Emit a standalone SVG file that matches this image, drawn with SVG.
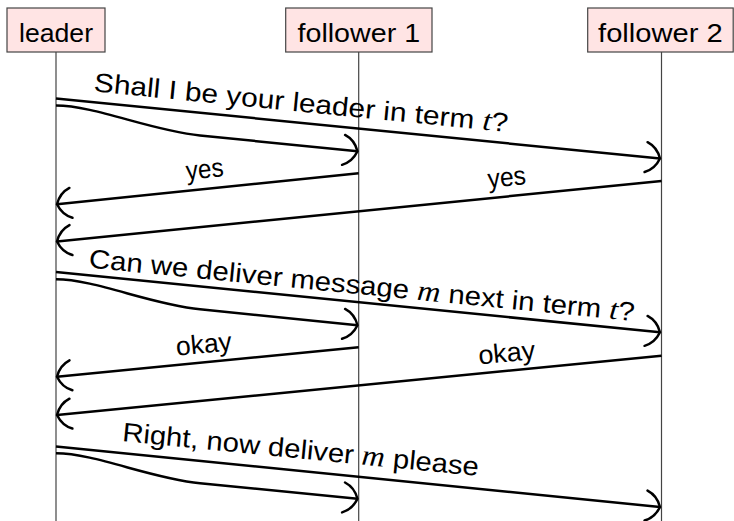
<svg xmlns="http://www.w3.org/2000/svg" width="734" height="521" viewBox="0 0 734 521">
<style>
.box{fill:#ffe4e4;stroke:#444;stroke-width:1.2}
.life{stroke:#444;stroke-width:1.2;fill:none}
.msg{stroke:#000;stroke-width:2.5;fill:none;marker-end:url(#to)}
.t{font-family:"Liberation Sans",Arial,sans-serif;font-size:26.5px;fill:#000}
.m{font-family:"Liberation Serif","Times New Roman",serif;font-style:italic;font-size:29px}
</style>
<defs>
<marker id="to" markerUnits="userSpaceOnUse" orient="auto" markerWidth="40" markerHeight="40" refX="0" refY="0" overflow="visible">
<path d="M -14,-15 Q -4,-11 0,0 Q -4,11 -14,15" fill="none" stroke="#000" stroke-width="2.5" stroke-linecap="round"/>
</marker>
</defs>
<g id="lifelines">
<line class="life" x1="56" y1="52" x2="56" y2="521"/>
<line class="life" x1="358.7" y1="52" x2="358.7" y2="521"/>
<line class="life" x1="661.5" y1="52" x2="661.5" y2="521"/>
</g>
<g id="leader">
<rect class="box" x="7" y="8" width="98" height="44"/>
<text class="t" x="56" y="41.7" text-anchor="middle" textLength="74" lengthAdjust="spacingAndGlyphs">leader</text>
</g>
<g id="follower1">
<rect class="box" x="285.7" y="8" width="146.3" height="44"/>
<text class="t" x="358.8" y="41.7" text-anchor="middle" textLength="122.6" lengthAdjust="spacingAndGlyphs">follower 1</text>
</g>
<g id="follower2">
<rect class="box" x="587.7" y="8" width="145.5" height="44"/>
<text class="t" x="660.4" y="41.7" text-anchor="middle" textLength="124.7" lengthAdjust="spacingAndGlyphs">follower 2</text>
</g>
<g id="connectors">
<path class="msg" d="M56,98.5 L660,158.5"/>
<path class="msg" d="M56,105.5 C95,105.5 150,130.5 200,135.5 L357.5,151.3"/>
<path class="msg" d="M358.7,173.3 L57,204.3"/>
<path class="msg" d="M661.5,181 L57,241.5"/>
<path class="msg" d="M56,272 L660,332.3"/>
<path class="msg" d="M56,279.3 C95,279.3 150,304.3 200,309.3 L357.5,325.3"/>
<path class="msg" d="M358.7,347.3 L57,376.7"/>
<path class="msg" d="M661.5,355.7 L57,415"/>
<path class="msg" d="M56,446.5 L660,507"/>
<path class="msg" d="M56,453.3 C95,453.3 150,478.3 200,483.3 L357.5,498.8"/>
</g>
<g id="labels">
<text class="t" transform="translate(93.3,91.3) rotate(5.6)" textLength="416" lengthAdjust="spacingAndGlyphs">Shall I be your leader in term <tspan class="m">t</tspan>?</text>
<text class="t" transform="translate(205.5,178) rotate(-5.86)" text-anchor="middle" textLength="37.6" lengthAdjust="spacingAndGlyphs">yes</text>
<text class="t" transform="translate(507.5,186) rotate(-5.71)" text-anchor="middle" textLength="38.4" lengthAdjust="spacingAndGlyphs">yes</text>
<text class="t" transform="translate(88.3,267.5) rotate(5.6)" textLength="548" lengthAdjust="spacingAndGlyphs">Can we deliver message <tspan class="m">m</tspan> next in term <tspan class="m">t</tspan>?</text>
<text class="t" transform="translate(204.7,353) rotate(-5.57)" text-anchor="middle" textLength="56" lengthAdjust="spacingAndGlyphs">okay</text>
<text class="t" transform="translate(507.5,361.7) rotate(-5.6)" text-anchor="middle" textLength="57" lengthAdjust="spacingAndGlyphs">okay</text>
<text class="t" transform="translate(121.7,441) rotate(5.6)" textLength="358" lengthAdjust="spacingAndGlyphs">Right, now deliver <tspan class="m">m</tspan> please</text>
</g>
</svg>
